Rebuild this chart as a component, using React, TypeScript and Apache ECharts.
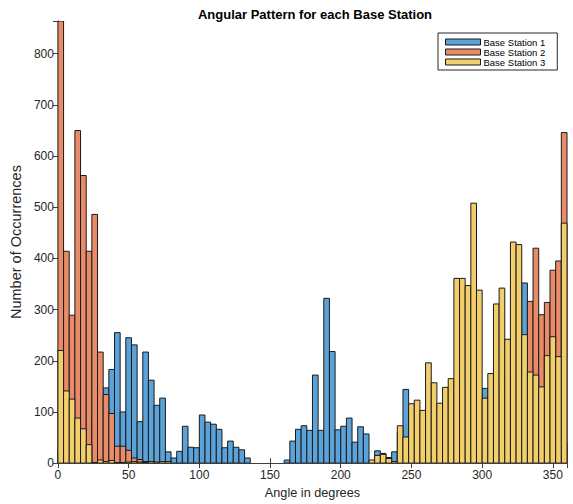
import React, { useEffect, useRef } from "react";
import * as echarts from "echarts";

const BIN_WIDTH = 4;
const seriesNames = ["Base Station 1", "Base Station 2", "Base Station 3"];
const seriesColors = ["#5aa2d8", "#e88b69", "#f3cf6c"];

// counts per 4-degree bin, 0..360
const station1 = [
  20, 25, 30, 40, 55, 70, 90, 110, 147, 183,
  255, 100, 245, 231, 81, 217, 162, 113, 127, 22,
  10, 23, 72, 31, 30, 94, 80, 76, 66, 30,
  43, 31, 26, 10, 0, 0, 0, 0, 0, 0,
  6, 43, 66, 73, 64, 172, 64, 322, 218, 65,
  72, 88, 41, 71, 57, 0, 24, 19, 11, 22,
  60, 144, 90, 100, 80, 120, 110, 90, 100, 120,
  140, 150, 130, 140, 120, 146, 130, 150, 160, 170,
  180, 200, 352, 200, 150, 120, 90, 70, 50, 40,
];
const station2 = [
  864, 414, 289, 650, 562, 414, 486, 217, 134, 97,
  33, 33, 25, 10, 7, 3, 0, 0, 0, 0,
  0, 0, 0, 0, 0, 0, 0, 0, 0, 0,
  0, 0, 0, 0, 0, 0, 0, 0, 0, 0,
  0, 0, 0, 0, 0, 0, 0, 0, 0, 0,
  0, 0, 0, 0, 0, 0, 0, 0, 0, 0,
  5, 8, 12, 15, 20, 25, 30, 35, 40, 45,
  55, 60, 70, 80, 85, 95, 110, 125, 140, 160,
  180, 200, 220, 316, 420, 290, 314, 377, 395, 646,
];
const station3 = [
  220, 141, 125, 88, 67, 36, 1, 6, 3, 5,
  1, 1, 2, 3, 2, 1, 3, 2, 3, 3,
  0, 0, 0, 0, 0, 0, 0, 0, 0, 0,
  0, 0, 0, 0, 0, 0, 0, 0, 0, 0,
  0, 0, 0, 0, 0, 0, 0, 0, 0, 0,
  0, 0, 0, 0, 0, 6, 15, 17, 9, 3,
  73, 51, 116, 123, 103, 196, 157, 117, 148, 165,
  361, 361, 347, 508, 338, 127, 175, 311, 342, 242,
  432, 427, 251, 178, 172, 149, 210, 247, 208, 469,
];

const X_MIN = 0;
const X_MAX = 360;
const X_INTERVAL = 50;
const Y_MIN = 0;
const Y_MAX = 864;
const Y_INTERVAL = 100;

const FONT = "'Liberation Sans', Arial, Helvetica, sans-serif";
const AXIS_COLOR = "#404040";
const TEXT_COLOR = "#262626";

function makeSeries(name: string, values: number[], color: string) {
  return {
    name,
    type: "custom",
    xAxisIndex: 0,
    yAxisIndex: 0,
    clip: true,
    itemStyle: { color, borderColor: "#1a1a1a", borderWidth: 1 },
    encode: { x: [0, 1], y: 2 },
    data: values.map((v, i) => [i * BIN_WIDTH, (i + 1) * BIN_WIDTH, v]),
    renderItem: (params: any, api: any) => {
      const v = api.value(2);
      if (!v) return null;
      const p0 = api.coord([api.value(0), v]);
      const p1 = api.coord([api.value(1), 0]);
      return {
        type: "rect",
        shape: { x: p0[0], y: p0[1], width: p1[0] - p0[0], height: p1[1] - p0[1] },
        style: { fill: color, stroke: "#1a1a1a", lineWidth: 1 },
      };
    },
  };
}

export default function App() {
  const ref = useRef<HTMLDivElement>(null);
  useEffect(() => {
    if (!ref.current) return;
    const chart = echarts.init(ref.current, undefined, { renderer: "svg" });
    const axisCommon = {
      axisLine: { show: true, lineStyle: { color: AXIS_COLOR, width: 1 } },
      axisTick: { show: true, inside: true, length: 5, lineStyle: { color: AXIS_COLOR } },
      splitLine: { show: false },
    };
    chart.setOption({
      animation: false,
      backgroundColor: "#ffffff",
      title: {
        text: "Angular Pattern for each Base Station",
        left: 310,
        top: 3,
        textAlign: "center",
        textStyle: { fontFamily: FONT, fontSize: 13, fontWeight: "bold", color: "#000" },
      },
      legend: {
        data: seriesNames,
        orient: "vertical",
        left: 438,
        top: 33,
        icon: "rect",
        itemWidth: 35,
        itemHeight: 6,
        itemGap: 0,
        padding: [4, 12, 3, 7],
        borderColor: "#262626",
        borderWidth: 1,
        backgroundColor: "#fff",
        itemStyle: { borderColor: "#1a1a1a", borderWidth: 1 },
        textStyle: { fontFamily: FONT, fontSize: 9.5, lineHeight: 10, color: "#000", padding: [0, 0, 0, -2] },
      },
      grid: { left: 54, right: 6, top: 21, bottom: 35, containLabel: false },
      xAxis: [
        {
          type: "value",
          min: X_MIN,
          max: X_MAX,
          interval: X_INTERVAL,
          position: "bottom",
          ...axisCommon,
          axisLabel: {
            show: true,
            showMaxLabel: false,
            margin: 6,
            fontFamily: FONT,
            fontSize: 12,
            color: TEXT_COLOR,
          },
          name: "Angle in degrees",
          nameLocation: "middle",
          nameGap: 20,
          nameTextStyle: { fontFamily: FONT, fontSize: 12.7, color: TEXT_COLOR },
        },
        {
          type: "value",
          min: X_MIN,
          max: X_MAX,
          interval: X_INTERVAL,
          position: "top",
          ...axisCommon,
          axisLabel: { show: false },
        },
      ],
      yAxis: [
        {
          type: "value",
          min: Y_MIN,
          max: Y_MAX,
          interval: Y_INTERVAL,
          position: "left",
          ...axisCommon,
          axisLabel: {
            show: true,
            showMaxLabel: false,
            margin: 4,
            fontFamily: FONT,
            fontSize: 12,
            color: TEXT_COLOR,
          },
          name: "Number of Occurrences",
          nameLocation: "middle",
          nameGap: 27,
          nameTextStyle: { fontFamily: FONT, fontSize: 14.5, color: TEXT_COLOR },
        },
        {
          type: "value",
          min: Y_MIN,
          max: Y_MAX,
          interval: Y_INTERVAL,
          position: "right",
          ...axisCommon,
          axisLabel: { show: false },
        },
      ],
      series: [
        makeSeries(seriesNames[0], station1, seriesColors[0]),
        makeSeries(seriesNames[1], station2, seriesColors[1]),
        makeSeries(seriesNames[2], station3, seriesColors[2]),
      ],
    });
    return () => chart.dispose();
  }, []);
  return <div ref={ref} style={{ width: 573, height: 504, position: "absolute", left: 0, top: 0 }} />;
}
